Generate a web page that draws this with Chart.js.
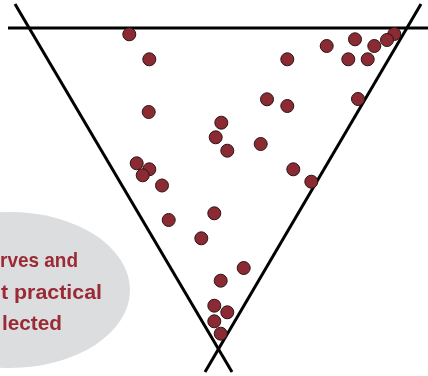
<!DOCTYPE html>
<html>
<head>
<meta charset="utf-8">
<script src="https://cdn.jsdelivr.net/npm/chart.js@4/dist/chart.umd.min.js"></script>
<style>
    html, body { margin: 0; padding: 0; background: #ffffff; }
    #wrap { position: relative; width: 428px; height: 376px; }
</style>
</head>
<body>
<div id="wrap"><canvas id="funnelChart"></canvas></div>
<script>
// Points (x, y)
const dotX = [129.3, 149.3, 148.7, 136.7, 149.3, 142.7, 162.0,
    394.3, 387.0, 355.0, 374.3, 326.7, 348.3, 367.7, 287.3, 267.0, 287.3, 358.0,
    221.3, 215.7, 227.3, 260.7, 293.3, 311.3,
    168.7, 214.3, 201.3, 243.7, 220.7, 214.3, 227.3, 214.3, 220.7];
const dotY = [34.3, 59.3, 112.0, 163.3, 169.3, 175.3, 185.5,
    34.0, 40.0, 39.3, 46.0, 46.0, 59.3, 59.3, 59.3, 99.3, 106.0, 99.0,
    122.7, 137.3, 150.7, 144.0, 169.3, 181.7,
    220.0, 213.3, 238.3, 268.0, 280.7, 305.7, 312.3, 321.3, 333.7];

// Lignes du cadre
const topLineX = [8, 428];
const topLineY = [28, 28];
const leftLineX = [15, 232];
const leftLineY = [4, 372];
const rightLineX = [421, 205];
const rightLineY = [4, 372];

// Texte de la bulle
const noteLines = ['rves and', 't practical', 'lected'];

function toPoints(xs, ys) {
    return xs.map((x, i) => ({ x: x, y: ys[i] }));
}

function lineDataset(xs, ys) {
    return {
        type: 'line',
        data: toPoints(xs, ys),
        borderColor: '#000000',
        borderWidth: 3,
        pointRadius: 0,
        fill: false,
        tension: 0
    };
}

// Bulle grise + texte, dessinés sous les points
const notePlugin = {
    id: 'note',
    beforeDatasetsDraw(chart) {
        const ctx = chart.ctx;
        const sx = chart.scales.x, sy = chart.scales.y;
        const cx = sx.getPixelForValue(10), cy = sy.getPixelForValue(290);
        const rx = sx.getPixelForValue(130) - cx;
        const ry = sy.getPixelForValue(368) - cy;
        ctx.save();
        ctx.fillStyle = '#dcdddf';
        ctx.beginPath();
        ctx.ellipse(cx, cy, rx, Math.abs(ry), 0, 0, Math.PI * 2);
        ctx.fill();

        ctx.fillStyle = '#9a2a36';
        ctx.font = 'bold 21px "Liberation Sans", Arial, sans-serif';
        ctx.textAlign = 'left';
        ctx.textBaseline = 'alphabetic';
        // début / fin visibles de chaque ligne
        const startX = [0, 1, 2];
        const endX = [78, 102, 62];
        const baseY = [267, 298.5, 330];
        noteLines.forEach((t, i) => {
            const x0 = sx.getPixelForValue(startX[i]);
            const x1 = sx.getPixelForValue(endX[i]);
            const w = ctx.measureText(t).width;
            ctx.save();
            ctx.translate(x0, sy.getPixelForValue(baseY[i]));
            ctx.scale((x1 - x0) / w, 1);
            ctx.fillText(t, 0, 0);
            ctx.restore();
        });
        ctx.restore();
    }
};

document.addEventListener('DOMContentLoaded', function() {
    const ctx = document.getElementById('funnelChart').getContext('2d');
    new Chart(ctx, {
        type: 'scatter',
        data: {
            datasets: [
                {
                    data: toPoints(dotX, dotY),
                    backgroundColor: '#8c2a33',
                    borderColor: '#2a1414',
                    borderWidth: 1,
                    pointRadius: 6.5
                },
                lineDataset(topLineX, topLineY),
                lineDataset(leftLineX, leftLineY),
                lineDataset(rightLineX, rightLineY)
            ]
        },
        options: {
            responsive: true,
            maintainAspectRatio: false,
            animation: false,
            layout: { padding: 0, autoPadding: false },
            plugins: {
                legend: { display: false },
                tooltip: { enabled: false }
            },
            scales: {
                x: { type: 'linear', min: 0, max: 428, display: false },
                y: { type: 'linear', min: 0, max: 376, reverse: true, display: false }
            }
        },
        plugins: [notePlugin]
    });
});
</script>
</body>
</html>
